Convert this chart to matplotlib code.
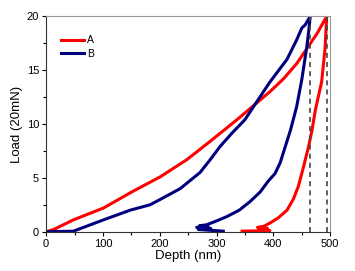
import numpy as np
import matplotlib
matplotlib.use("Agg")
from matplotlib import pyplot as plt
from matplotlib.ticker import MultipleLocator

plt.rcParams['font.family'] = ['Liberation Sans', 'DejaVu Sans']

# sample A (red): loading then unloading
depth_a = [0, 13, 48, 101, 151, 201, 248, 289, 336, 365, 394, 418, 441, 459, 477, 494,
           491, 485, 479, 474, 468, 462, 453, 444, 435, 424, 409, 394, 383,
           372, 390, 375, 394, 345]
load_a = [0, 0.2, 1.1, 2.2, 3.7, 5.1, 6.7, 8.4, 10.4, 11.7, 13.0, 14.2, 15.6, 17.0, 18.4, 20,
          17.0, 13.9, 12.5, 11.3, 9.4, 7.9, 6.0, 4.2, 3.0, 2.0, 1.3, 0.8, 0.5,
          0.4, 0.3, 0.25, 0.1, 0.05]

# sample B (blue): loading then unloading
depth_b = [0, 48, 101, 148, 183, 201, 236, 271, 289, 306, 328, 350, 365, 394,
           424, 441, 450, 456, 465,
           462, 459, 450, 441, 435, 430, 421, 412, 403, 391, 377, 359, 340,
           318, 300, 283,
           270, 285, 265, 290, 268, 312]
load_b = [0, 0.05, 1.1, 2.0, 2.5, 3.0, 4.0, 5.5, 6.7, 7.9, 9.2, 10.4, 11.6, 13.9,
          16.0, 17.8, 18.9, 19.2, 20,
          18.5, 17.2, 14.1, 11.6, 10.4, 9.4, 7.9, 6.4, 5.4, 4.7, 3.7, 2.8, 2.0,
          1.4, 1.0, 0.65,
          0.55, 0.5, 0.4, 0.3, 0.2, 0.05]

max_depth = [494, 465]

fig, ax = plt.subplots(figsize=(3.55, 2.71), dpi=100)
fig.subplots_adjust(left=0.13, right=0.93, top=0.94, bottom=0.145)

ax.plot(depth_a, load_a, color="#ff0000", lw=2.2, solid_joinstyle="round", label="A")
ax.plot(depth_b, load_b, color="#00007f", lw=2.2, solid_joinstyle="round", label="B")
for d in max_depth:
    ax.plot([d, d], [0, 20], color="#444444", lw=1.2, ls=(0, (3, 2.5)))

ax.set_xlim(0, 500)
ax.set_ylim(0, 20)
ax.xaxis.set_major_locator(MultipleLocator(100))
ax.xaxis.set_minor_locator(MultipleLocator(50))
ax.yaxis.set_major_locator(MultipleLocator(5))
ax.yaxis.set_minor_locator(MultipleLocator(2.5))
ax.tick_params(which="major", length=3, width=0.8, labelsize=8, pad=2)
ax.tick_params(which="minor", length=2, width=0.8)
ax.set_xlabel("Depth (nm)", fontsize=9.5, labelpad=1)
ax.set_ylabel("Load (20mN)", fontsize=9.5, labelpad=3)
for s in ["top", "right"]:
    ax.spines[s].set_color("#999999")
for s in ["left", "bottom"]:
    ax.spines[s].set_color("#333333")

ax.legend(loc="upper left", frameon=False, fontsize=7.5, handlelength=2.2,
          handletextpad=0.3, labelspacing=0.35, borderaxespad=0.2,
          bbox_to_anchor=(0.03, 0.94))

fig.savefig("out.png", dpi=100)
